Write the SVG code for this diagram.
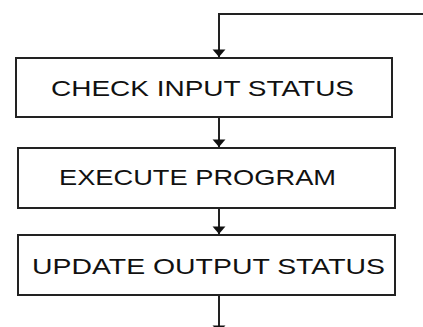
<svg xmlns="http://www.w3.org/2000/svg" width="423" height="327" viewBox="0 0 423 327">
<style>
.box{fill:#fff;stroke:#222;stroke-width:2}
.lbl{font-family:"Liberation Sans",Arial,sans-serif;font-size:22px;fill:#111}
.con{fill:none;stroke:#222;stroke-width:2}
</style>
<defs>
<marker id="ah" markerUnits="userSpaceOnUse" markerWidth="12" markerHeight="14" viewBox="0 -6 7 12" refX="6.5" refY="0" orient="auto">
<path d="M0,-5.5 L6.5,0 L0,5.5 z" fill="#111"/>
</marker>
</defs>
<rect width="423" height="327" fill="#fff"/>
<g id="connectors">
<path class="con" d="M423,14 H219 V57" marker-end="url(#ah)"/>
<path class="con" d="M219,118 V147" marker-end="url(#ah)"/>
<path class="con" d="M219,208 V234" marker-end="url(#ah)"/>
<path class="con" d="M219,295 V333" marker-end="url(#ah)"/>
</g>
<g id="node-check">
<rect class="box" x="16" y="58" width="376" height="59"/>
<text class="lbl" x="51" y="96" textLength="303" lengthAdjust="spacingAndGlyphs">CHECK INPUT STATUS</text>
</g>
<g id="node-execute">
<rect class="box" x="18" y="148" width="377" height="60"/>
<text class="lbl" x="59" y="184.5" textLength="277" lengthAdjust="spacingAndGlyphs">EXECUTE PROGRAM</text>
</g>
<g id="node-update">
<rect class="box" x="18" y="235" width="377" height="60"/>
<text class="lbl" x="32" y="274" textLength="353" lengthAdjust="spacingAndGlyphs">UPDATE OUTPUT STATUS</text>
</g>
</svg>
